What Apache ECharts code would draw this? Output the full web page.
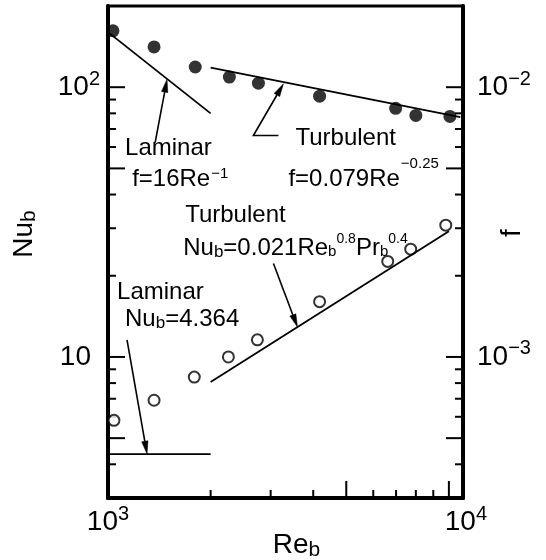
<!DOCTYPE html>
<html><head><meta charset="utf-8">
<script src="https://cdn.jsdelivr.net/npm/echarts@6/dist/echarts.min.js"></script>
<style>html,body{margin:0;padding:0;background:#fff}#c{width:546px;height:560px}</style>
</head><body><div id="c"></div>
<script>
// ---------- data ----------
const reFriction = [1034, 1365, 1803, 2270, 2762, 4175, 6980, 8000, 10070];
const fMeasured  = [0.01618, 0.01410, 0.01188, 0.01090, 0.01035, 0.00926, 0.00835, 0.00786, 0.00779];
const reHeat     = [1041, 1365, 1791, 2255, 2743, 4175, 6616, 7727, 9792];
const nuMeasured = [5.82, 6.91, 8.42, 10.0, 11.57, 16.03, 22.6, 25.1, 30.8];

const laminarF    = [[1000, 0.016], [2000, 0.008]];
const turbulentF  = [[2000, 0.01181], [10800, 0.00775]];
const laminarNu   = [[1000, 4.364], [2000, 4.364]];
const turbulentNu = [[2000, 8.07], [10000, 29.27]];

const RE_MIN = 1000, RE_MAX = 11000;
const NU_MIN = 3, NU_MAX = 200;
const F_MIN = 3e-4, F_MAX = 2e-2;

const reTicksLong  = [5000, 10000];
const reTicksShort = [2000, 3000, 4000, 6000, 7000, 8000, 9000];
const nuTicksLong  = [5, 10, 50, 100];
const nuTicksShort = [4, 6, 7, 8, 9, 20, 30, 40, 60, 70, 80, 90];
const fTicksLong   = [5e-4, 1e-3, 5e-3, 1e-2];
const fTicksShort  = [4e-4, 6e-4, 7e-4, 8e-4, 9e-4, 2e-3, 3e-3, 4e-3, 6e-3, 7e-3, 8e-3, 9e-3];

// annotation texts (anchor = left / middle, in data coordinates)
const noteFRe   = [1122, 1177, 3548, 3383];
const noteFVal  = [0.00592, 0.00454, 0.00645, 0.00457];
const noteFText = ['{m|Laminar}', '{m|f=16Re}{supA|\u22121}', '{m|Turbulent}', '{m|f=0.079Re}{supB|\u22120.25}'];
const noteNuRe   = [1684, 1662, 1063, 1122];
const noteNuVal  = [33.6, 25.3, 17.33, 13.74];
const noteNuText = ['{m|Turbulent}', '{m|Nu}{sub|b}{m|=0.021Re}{subS|b}{supC|0.8}{m|Pr}{subS|b}{supC|0.4}', '{m|Laminar}', '{m|Nu}{sub|b}{m|=4.364}'];

// leader arrows (last point = arrow tip)
const arrowsF  = [[[1375, 0.00623], [1490, 0.0107]], [[3162, 0.00662], [2670, 0.00662], [3271, 0.0103]]];
const arrowsNu = [[[3057, 22.2], [3596, 12.9]], [[1137, 11.57], [1302, 4.364]]];

// ---------- helpers ----------
const FONT = "'Liberation Sans', Arial, sans-serif";
const LONG = 17, SHORT = 8;

const noteRich = {
  m:    { fontFamily: FONT, fontSize: 24, lineHeight: 24, verticalAlign: 'middle', color: '#000' },
  sub:  { fontFamily: FONT, fontSize: 17, lineHeight: 17, verticalAlign: 'middle', padding: [8, 0, 0, 0], color: '#000' },
  subS: { fontFamily: FONT, fontSize: 15, lineHeight: 15, verticalAlign: 'middle', padding: [8, 0, 0, 0], color: '#000' },
  supA: { fontFamily: FONT, fontSize: 15, lineHeight: 15, verticalAlign: 'middle', padding: [0, 0, 12, 1], color: '#000' },
  supB: { fontFamily: FONT, fontSize: 15, lineHeight: 15, verticalAlign: 'middle', padding: [0, 0, 30, 1], color: '#000' },
  supC: { fontFamily: FONT, fontSize: 14, lineHeight: 14, verticalAlign: 'middle', padding: [0, 0, 18, 0], color: '#000' }
};
const labelRich = {
  b:   { fontFamily: FONT, fontSize: 28, lineHeight: 28, verticalAlign: 'middle', color: '#000' },
  b10: { fontFamily: FONT, fontSize: 28, lineHeight: 28, verticalAlign: 'middle', color: '#000', padding: [0, 9, 0, 0] },
  b4:  { fontFamily: FONT, fontSize: 28, lineHeight: 28, verticalAlign: 'middle', color: '#000', padding: [0, 0, 0, 34] },
  s:   { fontFamily: FONT, fontSize: 20, lineHeight: 20, verticalAlign: 'middle', padding: [0, 0, 16, 0], color: '#000' }
};
function powLabel(v, isX, plainTen) {
  const lg = Math.log10(v), e = Math.round(lg);
  if (Math.abs(lg - e) > 1e-6) return '';
  if (plainTen && e === 1) return '{b10|10}';
  const k = (isX && e === 4) ? 'b4' : 'b';
  return '{' + k + '|10}{s|' + (e < 0 ? '\u2212' + (-e) : e) + '}';
}

function textRenderer(texts) {
  return function (params, api) {
    const p = api.coord([api.value(0), api.value(1)]);
    return { type: 'text', x: p[0], y: p[1], silent: true,
      style: { text: texts[params.dataIndex], rich: noteRich, fill: '#000', align: 'left', verticalAlign: 'middle', fontFamily: FONT, fontSize: 24 } };
  };
}
function arrowRenderer(paths) {
  return function (params, api) {
    const pts = paths[params.dataIndex].map(q => api.coord(q));
    const n = pts.length, tip = pts[n - 1], prev = pts[n - 2];
    const dx = tip[0] - prev[0], dy = tip[1] - prev[1], L = Math.hypot(dx, dy);
    const ux = dx / L, uy = dy / L, hl = 13, hw = 3.2;
    const base = [tip[0] - ux * hl, tip[1] - uy * hl];
    const a = [base[0] - uy * hw, base[1] + ux * hw], b = [base[0] + uy * hw, base[1] - ux * hw];
    return { type: 'group', silent: true, children: [
      { type: 'polyline', shape: { points: pts.slice(0, n - 1).concat([base]) }, style: { stroke: '#000', lineWidth: 1.6, fill: null } },
      { type: 'polygon', shape: { points: [tip, a, b] }, style: { fill: '#000', stroke: '#000', lineWidth: 0.5 } }
    ]};
  };
}
// kind: 'x' (bottom), 'l' (left), 'r' (right)
function tickRenderer(kind) {
  return function (params, api) {
    const p = api.coord([api.value(0), api.value(1)]);
    const len = api.value(2);
    let q;
    if (kind === 'x') q = [p[0], p[1] - len];
    else if (kind === 'l') q = [p[0] + len, p[1]];
    else q = [p[0] - len, p[1]];
    return { type: 'line', silent: true, shape: { x1: p[0], y1: p[1], x2: q[0], y2: q[1] }, style: { stroke: '#000', lineWidth: 2 } };
  };
}
const xTickData = reTicksLong.map(v => [v, NU_MIN, LONG]).concat(reTicksShort.map(v => [v, NU_MIN, SHORT]));
const lTickData = nuTicksLong.map(v => [RE_MIN, v, LONG]).concat(nuTicksShort.map(v => [RE_MIN, v, SHORT]));
const rTickData = fTicksLong.map(v => [RE_MAX, v, LONG]).concat(fTicksShort.map(v => [RE_MAX, v, SHORT]));

const lineStyle = { color: '#000', width: 1.8 };

const chart = echarts.init(document.getElementById('c'), null, { renderer: 'canvas' });
chart.setOption({
  animation: false,
  backgroundColor: '#fff',
  grid: { left: 108, right: 83, top: 6, bottom: 62, show: true, borderColor: '#000', borderWidth: 3, containLabel: false, outerBoundsMode: 'none' },
  xAxis: {
    type: 'log', logBase: 10, min: RE_MIN, max: RE_MAX,
    name: '{m|Re}{sub|b}', nameLocation: 'middle', nameGap: 33, nameMoveOverlap: false,
    nameTextStyle: { rich: {
      m: { fontFamily: FONT, fontSize: 28, lineHeight: 28, verticalAlign: 'middle', color: '#000', padding: [0, 0, 0, 22] },
      sub: { fontFamily: FONT, fontSize: 21, lineHeight: 21, verticalAlign: 'middle', padding: [10, 0, 0, 0], color: '#000' } } },
    axisLine: { show: true, lineStyle: { color: '#000', width: 4 } },
    axisTick: { show: false }, splitLine: { show: false }, minorTick: { show: false },
    axisLabel: { margin: 10, formatter: v => powLabel(v, true, false), rich: labelRich, showMinLabel: true, showMaxLabel: true }
  },
  yAxis: [{
    type: 'log', logBase: 10, min: NU_MIN, max: NU_MAX, position: 'left',
    name: '{m|Nu}{sub|b}', nameLocation: 'middle', nameRotate: 90, nameGap: 70, nameMoveOverlap: false,
    nameTextStyle: { rich: {
      m: { fontFamily: FONT, fontSize: 28, lineHeight: 28, verticalAlign: 'middle', color: '#000', padding: [0, 0, 0, 36] },
      sub: { fontFamily: FONT, fontSize: 21, lineHeight: 21, verticalAlign: 'middle', padding: [10, 0, 0, 0], color: '#000' } } },
    axisLine: { show: true, lineStyle: { color: '#000', width: 4 } },
    axisTick: { show: false }, splitLine: { show: false }, minorTick: { show: false },
    axisLabel: { margin: 8, formatter: v => powLabel(v, false, true), rich: labelRich }
  }, {
    type: 'log', logBase: 10, min: F_MIN, max: F_MAX, position: 'right',
    name: '{m|f}', nameLocation: 'middle', nameRotate: 90, nameGap: 35, nameMoveOverlap: false,
    nameTextStyle: { rich: {
      m: { fontFamily: FONT, fontSize: 28, lineHeight: 28, verticalAlign: 'middle', color: '#000', padding: [0, 0, 0, 38] } } },
    axisLine: { show: true, lineStyle: { color: '#000', width: 4 } },
    axisTick: { show: false }, splitLine: { show: false }, minorTick: { show: false },
    axisLabel: { margin: 14, formatter: v => powLabel(v, false, false), rich: labelRich }
  }],
  series: [
    { type: 'line', yAxisIndex: 1, data: laminarF, symbol: 'none', lineStyle: lineStyle, silent: true },
    { type: 'line', yAxisIndex: 1, data: turbulentF, symbol: 'none', lineStyle: lineStyle, silent: true },
    { type: 'line', yAxisIndex: 0, data: laminarNu, symbol: 'none', lineStyle: lineStyle, silent: true },
    { type: 'line', yAxisIndex: 0, data: turbulentNu, symbol: 'none', lineStyle: lineStyle, silent: true },
    { type: 'scatter', yAxisIndex: 1, data: reFriction.map((r, i) => [r, fMeasured[i]]), symbol: 'circle', symbolSize: 13,
      itemStyle: { color: '#000' }, silent: true },
    { type: 'scatter', yAxisIndex: 0, data: reHeat.map((r, i) => [r, nuMeasured[i]]), symbol: 'circle', symbolSize: 11,
      itemStyle: { color: '#fff', borderColor: '#000', borderWidth: 2 }, silent: true },
    { type: 'custom', yAxisIndex: 1, data: noteFRe.map((r, i) => [r, noteFVal[i]]), renderItem: textRenderer(noteFText), silent: true },
    { type: 'custom', yAxisIndex: 0, data: noteNuRe.map((r, i) => [r, noteNuVal[i]]), renderItem: textRenderer(noteNuText), silent: true },
    { type: 'custom', yAxisIndex: 1, data: arrowsF.map(p => p[0]), renderItem: arrowRenderer(arrowsF), silent: true },
    { type: 'custom', yAxisIndex: 0, data: arrowsNu.map(p => p[0]), renderItem: arrowRenderer(arrowsNu), silent: true },
    { type: 'custom', yAxisIndex: 0, data: xTickData, renderItem: tickRenderer('x'), silent: true },
    { type: 'custom', yAxisIndex: 0, data: lTickData, renderItem: tickRenderer('l'), silent: true },
    { type: 'custom', yAxisIndex: 1, data: rTickData, renderItem: tickRenderer('r'), silent: true }
  ]
});
</script></body></html>
